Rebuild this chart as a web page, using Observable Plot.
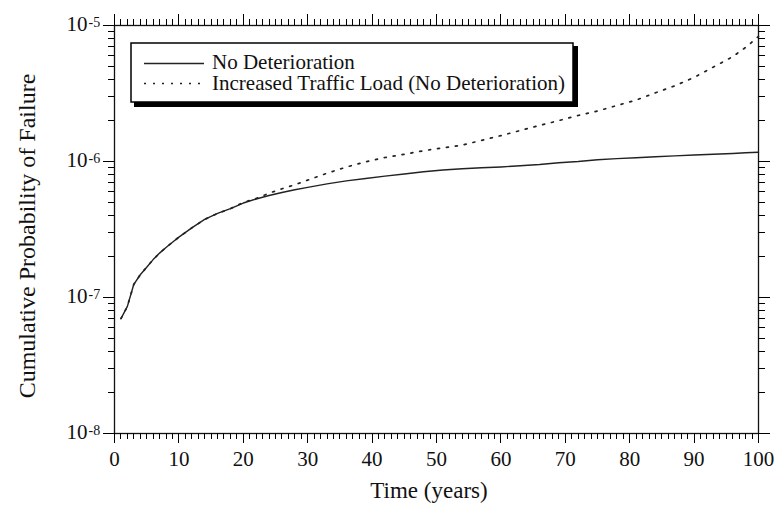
<!DOCTYPE html>
<html><head><meta charset="utf-8">
<script src="https://cdn.jsdelivr.net/npm/d3@7"></script>
<script src="https://cdn.jsdelivr.net/npm/@observablehq/plot@0.6"></script>
<style>body{margin:0;background:#fff}</style>
</head><body><div id="chart"></div>
<script>
const years = [1,2,3,4,5,6,7,8,9,10,12,14,16,18,20,22,24,26,28,30,33,36,39,42,45,48,51,54,57,60,63,66,69,72,75,78,81,84,87,90,93,96,98,100];
const noDeterioration = [7.0e-8,8.6e-8,1.25e-7,1.47e-7,1.67e-7,1.9e-7,2.12e-7,2.33e-7,2.55e-7,2.78e-7,3.25e-7,3.75e-7,4.15e-7,4.5e-7,4.95e-7,5.3e-7,5.62e-7,5.92e-7,6.2e-7,6.45e-7,6.85e-7,7.2e-7,7.5e-7,7.8e-7,8.1e-7,8.4e-7,8.65e-7,8.85e-7,9.0e-7,9.12e-7,9.3e-7,9.5e-7,9.8e-7,1.0e-6,1.03e-6,1.05e-6,1.065e-6,1.085e-6,1.1e-6,1.115e-6,1.13e-6,1.145e-6,1.16e-6,1.17e-6];
const increasedTraffic = [7.0e-8,8.6e-8,1.25e-7,1.47e-7,1.67e-7,1.9e-7,2.12e-7,2.33e-7,2.55e-7,2.78e-7,3.25e-7,3.75e-7,4.15e-7,4.5e-7,5.0e-7,5.35e-7,5.85e-7,6.3e-7,6.75e-7,7.3e-7,8.2e-7,9.1e-7,9.95e-7,1.07e-6,1.13e-6,1.2e-6,1.26e-6,1.32e-6,1.43e-6,1.55e-6,1.69e-6,1.84e-6,2.0e-6,2.18e-6,2.35e-6,2.58e-6,2.83e-6,3.2e-6,3.6e-6,4.15e-6,4.95e-6,5.9e-6,6.9e-6,8.3e-6];
const seriesNames = ["No Deterioration", "Increased Traffic Load (No Deterioration)"];
const xMajorTicks = [0,10,20,30,40,50,60,70,80,90,100];
const xMinorTicks = d3.range(0, 101, 1).filter(v => v % 10 !== 0);
const yDecades = [1e-8, 1e-7, 1e-6, 1e-5];
const yExponents = ["-8", "-7", "-6", "-5"];
const yMinorTicks = yDecades.slice(0, 3).flatMap(d => [2,3,4,5,6,7,8,9].map(m => m * d));
const xTitle = "Time (years)";
const yTitle = "Cumulative Probability of Failure";

const rows = years.flatMap((t, i) => [
  {t, p: noDeterioration[i], s: seriesNames[0]},
  {t, p: increasedTraffic[i], s: seriesNames[1]}
]);

const W = 775, H = 507, ML = 114, MR = 17, MT = 25, MB = 74;
const font = "'Liberation Serif','Times New Roman',serif";
const ink = "#111";
const xDomain = [0, 100], yDomain = [1e-8, 1e-5];

const plot = Plot.plot({
  width: W, height: H,
  marginLeft: ML, marginRight: MR, marginTop: MT, marginBottom: MB,
  style: {fontFamily: font, fontSize: "21px", background: "#fff", color: ink},
  x: {domain: xDomain, axis: null},
  y: {type: "log", domain: yDomain, axis: null},
  marks: [
    Plot.frame({stroke: ink, strokeWidth: 1.3}),
    Plot.text(xMajorTicks, {x: d => d, frameAnchor: "bottom", text: d => String(d), lineAnchor: "middle", dy: 26, fontSize: 21, fill: ink}),
    Plot.text(yDecades, {y: d => d, frameAnchor: "left", text: () => "10", textAnchor: "end", lineAnchor: "middle", dx: -27, dy: -1, fontSize: 21, fill: ink}),
    Plot.text(yDecades, {y: d => d, frameAnchor: "left", text: (d, i) => yExponents[i], textAnchor: "start", lineAnchor: "middle", dx: -26, dy: -3, fontSize: 14, fill: ink}),
    Plot.line(rows, {filter: d => d.s === seriesNames[1], x: "t", y: "p", stroke: "#222", strokeWidth: 1.7, strokeDasharray: "2,7"}),
    Plot.line(rows, {filter: d => d.s === seriesNames[0], x: "t", y: "p", stroke: "#222", strokeWidth: 1.4})
  ]
});

const svg = d3.select(plot);
const sx = plot.scale("x"), sy = plot.scale("y");

// outward ticks on all four sides, placed with the plot's own scales (snapped to the pixel grid)
const snap = v => Math.round(v) + 0.5;
const tg = svg.append("g").attr("stroke", "#000").attr("stroke-width", 1.4).attr("shape-rendering", "crispEdges");
const addX = (vals, len, side) => vals.forEach(v => {
  const px = snap(sx.apply(v)), y0 = side === "bottom" ? H - MB : MT;
  tg.append("line").attr("x1", px).attr("x2", px).attr("y1", y0)
    .attr("y2", side === "bottom" ? y0 + len : y0 - len);
});
const addY = (vals, len, side) => vals.forEach(v => {
  const py = snap(sy.apply(v)), x0 = side === "left" ? ML : W - MR;
  tg.append("line").attr("y1", py).attr("y2", py).attr("x1", x0)
    .attr("x2", side === "left" ? x0 - len : x0 + len);
});
addX(xMinorTicks, 6, "bottom"); addX(xMajorTicks, 10, "bottom");
addX(xMinorTicks, 6, "top");    addX(xMajorTicks, 11, "top");
addY(yMinorTicks, 6, "left");   addY(yDecades, 11, "left");
addY(yMinorTicks, 7, "right");  addY(yDecades, 12, "right");

// axis titles
svg.append("text").attr("x", 429).attr("y", 498).attr("text-anchor", "middle")
  .attr("font-family", font).attr("font-size", 23).attr("fill", ink).text(xTitle);
svg.append("text").attr("transform", "translate(35,236) rotate(-90)").attr("text-anchor", "middle")
  .attr("font-family", font).attr("font-size", 24).attr("fill", ink).text(yTitle);
// legend
const lg = svg.append("g");
lg.append("rect").attr("x", 134).attr("y", 46).attr("width", 444).attr("height", 61).attr("fill", "#000");
lg.append("rect").attr("x", 131).attr("y", 43).attr("width", 442).attr("height", 59)
  .attr("fill", "#fff").attr("stroke", "#000").attr("stroke-width", 1.5);
const items = [
  {name: seriesNames[0], dash: null, ly: 63.5, ty: 69},
  {name: seriesNames[1], dash: "2,7", ly: 83.5, ty: 90}
];
items.forEach(it => {
  const l = lg.append("line").attr("x1", 144).attr("x2", 204).attr("y1", it.ly).attr("y2", it.ly)
    .attr("stroke", "#222").attr("stroke-width", it.dash ? 1.7 : 1.4);
  if (it.dash) l.attr("stroke-dasharray", it.dash);
  lg.append("text").attr("x", 212).attr("y", it.ty).attr("text-anchor", "start")
    .attr("font-family", font).attr("font-size", 21).attr("fill", ink).text(it.name);
});

document.getElementById("chart").appendChild(plot);
</script>
</body></html>
